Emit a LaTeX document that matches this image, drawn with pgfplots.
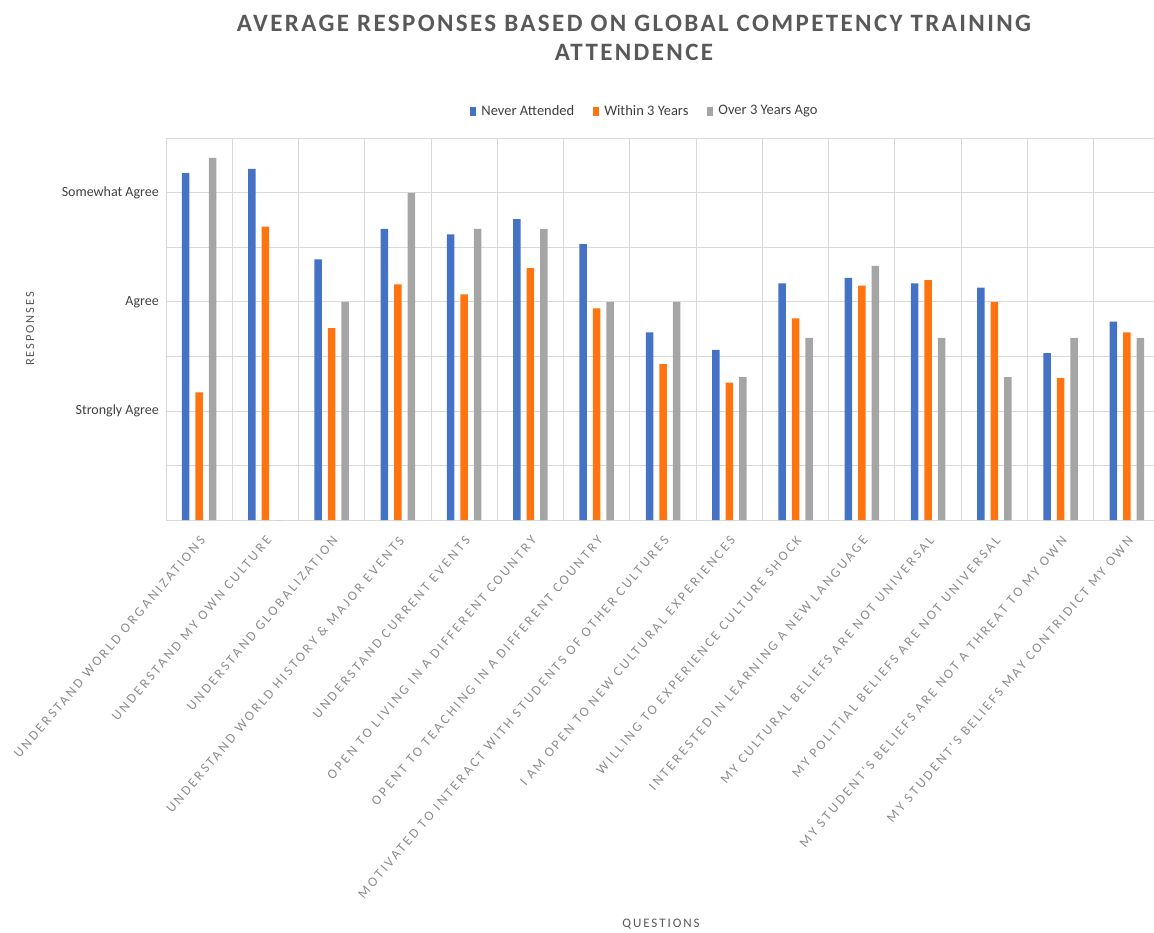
\documentclass[border=0pt]{standalone}
\usepackage{pgfplots}
\usepackage{pgfplotstable}
\pgfplotsset{compat=1.18}
\usepackage{fontspec}
\setmainfont{Carlito}
\newfontfamily\tickfont[LetterSpace=19.5]{Carlito}
\newfontfamily\titlefont[LetterSpace=9.5]{Carlito}
\newfontfamily\axisfont[LetterSpace=15]{Carlito}

\definecolor{neverblue}{HTML}{4472C4}
\definecolor{withinorange}{HTML}{FF7410}
\definecolor{overgray}{HTML}{A5A5A5}
\definecolor{gridgray}{HTML}{D9D9D9}
\definecolor{titlegray}{HTML}{595959}
\definecolor{labelgray}{HTML}{8C8C8C}
\definecolor{textgray}{HTML}{404040}

% x = question index, values read off the picture (1 = Strongly Agree, 2 = Agree, 3 = Somewhat Agree)
\pgfplotstableread{
x  never within over
0  3.18  1.17  3.32
1  3.22  2.69  0
2  2.39  1.76  2.00
3  2.67  2.16  3.00
4  2.62  2.07  2.67
5  2.76  2.31  2.67
6  2.53  1.94  2.00
7  1.72  1.43  2.00
8  1.56  1.26  1.31
9  2.17  1.85  1.67
10 2.22  2.15  2.33
11 2.17  2.20  1.67
12 2.13  2.00  1.31
13 1.53  1.30  1.67
14 1.82  1.72  1.67
}\responses

\begin{document}
\begin{tikzpicture}
  \useasboundingbox (0,0) rectangle (1154pt,-932pt);
  \begin{axis}[
      at={(166pt,-520pt)}, anchor=south west,
      width=994pt, height=381.7pt, scale only axis,
      ybar=6pt, bar width=7.5pt,
      xmin=-0.5, xmax=14.5, ymin=0, ymax=3.5,
      xtick={0,...,14},
      xticklabels={
        UNDERSTAND WORLD ORGANIZATIONS,
        UNDERSTAND MY OWN CULTURE,
        UNDERSTAND GLOBALIZATION,
        UNDERSTAND WORLD HISTORY \& MAJOR EVENTS,
        UNDERSTAND CURRENT EVENTS,
        OPEN TO LIVING IN A DIFFERENT COUNTRY,
        OPENT TO TEACHING IN A DIFFERENT COUNTRY,
        MOTIVATED TO INTERACT WITH STUDENTS OF OTHER CULTURES,
        I AM OPEN TO NEW CULTURAL EXPERIENCES,
        WILLING TO EXPERIENCE CULTURE SHOCK,
        INTERESTED IN LEARNING A NEW LANGUAGE,
        MY CULTURAL BELIEFS ARE NOT UNIVERSAL,
        MY POLITIAL BELIEFS ARE NOT UNIVERSAL,
        MY STUDENT'S BELIEFS ARE NOT A THREAT TO MY OWN,
        MY STUDENT'S BELIEFS MAY CONTRIDICT MY OWN},
      minor xtick={-0.5,0.5,...,14.5},
      xminorgrids=true, xmajorgrids=false,
      ytick={0,0.5,...,3.5},
      yticklabels={,,Strongly Agree,,Agree,,Somewhat Agree,},
      ymajorgrids=true,
      grid style={draw=gridgray, line width=0.9pt},
      minor grid style={draw=gridgray, line width=0.9pt},
      axis line style={draw=gridgray, line width=0.9pt},
      major tick length=0pt, minor tick length=0pt,
      tick style={draw=none},
      yticklabel style={font=\fontsize{14}{16}\selectfont, text=textgray, inner sep=0pt, xshift=-7pt},
      xticklabel style={font=\tickfont\fontsize{13.5}{15}\selectfont, text=labelgray,
        rotate=49.5, anchor=north east, inner sep=0pt},
      xticklabel shift=15pt,
      legend style={at={(axis description cs:0.4818,1.0715)}, anchor=center,
        draw=none, fill=none, legend columns=3,
        font=\fontsize{14.5}{16}\selectfont, text=textgray,
        /tikz/every even column/.append style={column sep=17pt}},
      legend image code/.code={\fill[#1] (0pt,-4.5pt) rectangle (6pt,4.5pt); \path (9pt,0pt);},
    ]
    \addplot[fill=neverblue, draw=none] table[x=x, y=never] {\responses};
    \addlegendentry{Never Attended}
    \addplot[fill=withinorange, draw=none] table[x=x, y=within] {\responses};
    \addlegendentry{Within 3 Years}
    \addplot[fill=overgray, draw=none] table[x=x, y=over] {\responses};
    \addlegendentry{Over 3 Years Ago}
  \end{axis}

  \node[font=\titlefont\bfseries\fontsize{25}{28}\selectfont, text=titlegray]
    at (634pt,-23pt) {AVERAGE RESPONSES BASED ON GLOBAL COMPETENCY TRAINING};
  \node[font=\titlefont\bfseries\fontsize{25}{28}\selectfont, text=titlegray]
    at (634pt,-52pt) {ATTENDENCE};
  \node[rotate=90, font=\axisfont\fontsize{12.5}{14}\selectfont, text=titlegray]
    at (30pt,-329pt) {RESPONSES};
  \node[font=\axisfont\fontsize{13}{15}\selectfont, text=titlegray]
    at (661pt,-924pt) {QUESTIONS};
\end{tikzpicture}
\end{document}
